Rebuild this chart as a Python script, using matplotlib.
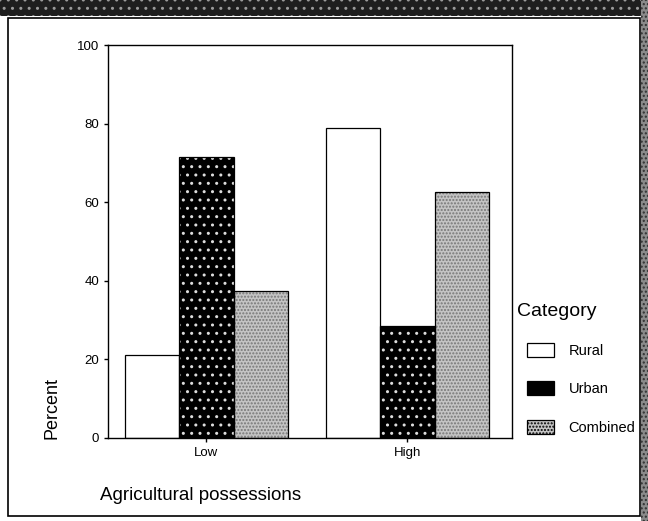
import numpy as np
import matplotlib.pyplot as plt
from matplotlib.patches import Rectangle

plt.rcParams['font.family'] = ['Liberation Sans', 'DejaVu Sans']

# data
groups = ['Low', 'High']
series = ['Rural', 'Urban', 'Combined']
rural = [21, 79]
urban = [71.5, 28.5]
combined = [37.5, 62.5]
yticks = [0, 20, 40, 60, 80, 100]

W, H = 648, 521
fig = plt.figure(figsize=(W / 100, H / 100), dpi=100)

# scan artifacts: dark strip on top, grey strip at the right, frame
fig.patches.append(Rectangle((0, 1 - 16 / H), 1, 16 / H, transform=fig.transFigure,
                             facecolor='#1e1e1e', edgecolor='#9a9a9a', hatch='..',
                             linewidth=0, zorder=0))
fig.patches.append(Rectangle((641 / W, 0), 7 / W, 1, transform=fig.transFigure,
                             facecolor='#8a8a8a', edgecolor='#303030', hatch='....',
                             linewidth=0, zorder=0))
fig.patches.append(Rectangle((8 / W, 5 / H), 632 / W, (516 - 18) / H,
                             transform=fig.transFigure, fill=False,
                             edgecolor='black', linewidth=1.2, zorder=1))

ax = fig.add_axes([108 / W, 1 - 438 / H, (512 - 108) / W, (438 - 45) / H])

x = np.arange(len(groups))
bw = 0.27
styles = {
    'Rural': dict(facecolor='white', hatch=None, hcol='white'),
    'Urban': dict(facecolor='black', hatch='..', hcol='#dddddd'),
    'Combined': dict(facecolor='#c4c4c4', hatch='.....', hcol='#777777'),
}
values = {'Rural': rural, 'Urban': urban, 'Combined': combined}

handles = []
for i, name in enumerate(series):
    st = styles[name]
    pos = x + (i - 1) * bw
    ax.bar(pos, values[name], width=bw, color=st['facecolor'], hatch=st['hatch'],
           edgecolor=st['hcol'], linewidth=0, zorder=2)
    ax.bar(pos, values[name], width=bw, fill=False, edgecolor='black',
           linewidth=0.9, zorder=3)
    handles.append(Rectangle((0, 0), 1, 1, facecolor=st['facecolor'],
                             hatch=None if name == 'Urban' else st['hatch'],
                             edgecolor='black', linewidth=0.9))

ax.set_xlim(-0.49, 1.52)
ax.set_ylim(0, 100)
ax.set_yticks(yticks)
ax.set_xticks(x)
ax.set_xticklabels(groups)
ax.tick_params(labelsize=9.5, length=3, width=1)
for s in ax.spines.values():
    s.set_linewidth(1)

fig.text(52 / W, 1 - 408 / H, 'Percent', rotation=90, ha='center', va='center', fontsize=13)
fig.text(100 / W, 1 - 496 / H, 'Agricultural possessions', ha='left', va='center', fontsize=13.5)
fig.text(517 / W, 1 - 312 / H, 'Category', ha='left', va='center', fontsize=14)

fig.legend(handles, series, loc='upper left',
           bbox_to_anchor=(527 / W, 1 - 343 / H), frameon=False,
           fontsize=10.5, handlelength=1.85, handleheight=1.1,
           labelspacing=1.6, handletextpad=1.0, borderaxespad=0, borderpad=0)

fig.savefig('out.png', dpi=100)
